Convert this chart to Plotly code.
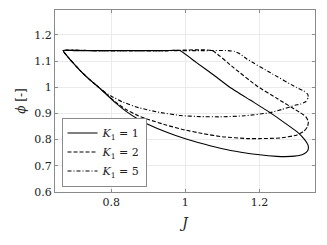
import plotly.graph_objects as go

# K1 = 1 (solid) closed loop
J_k1 = [0.670, 0.700, 0.750, 0.800, 0.850, 0.900, 0.950, 0.985,
        1.030, 1.080, 1.121, 1.175, 1.229, 1.270, 1.305, 1.322, 1.331, 1.332, 1.327, 1.315, 1.295, 1.270, 1.247,
        1.200, 1.150, 1.100, 1.050, 1.000, 0.950, 0.900, 0.874, 0.840, 0.810, 0.780, 0.760, 0.740, 0.720, 0.704, 0.685, 0.670]
phi_k1 = [1.140, 1.140, 1.140, 1.140, 1.140, 1.140, 1.140, 1.140,
          1.094, 1.043, 0.999, 0.951, 0.903, 0.862, 0.826, 0.800, 0.780, 0.765, 0.752, 0.742, 0.737, 0.735, 0.736,
          0.742, 0.752, 0.765, 0.783, 0.803, 0.828, 0.858, 0.877, 0.908, 0.942, 0.982, 1.007, 1.031, 1.058, 1.082, 1.112, 1.140]

# K1 = 2 (dashed)
J_k2 = [0.670, 0.750, 0.850, 0.950, 1.072,
        1.130, 1.193, 1.250, 1.310, 1.325, 1.332, 1.330, 1.320, 1.300, 1.256,
        1.200, 1.166, 1.100, 1.050, 0.995, 0.950, 0.900, 0.874, 0.840, 0.810, 0.780, 0.760, 0.740, 0.720, 0.704, 0.685, 0.670]
phi_k2 = [1.140, 1.140, 1.140, 1.140, 1.140,
          1.075, 1.005, 0.955, 0.903, 0.888, 0.870, 0.850, 0.832, 0.817, 0.806,
          0.804, 0.804, 0.811, 0.822, 0.838, 0.855, 0.877, 0.890, 0.915, 0.945, 0.982, 1.007, 1.031, 1.058, 1.082, 1.112, 1.140]

# K1 = 5 (dash-dot)
J_k5 = [0.670, 0.750, 0.850, 0.950, 1.050, 1.115,
        1.132, 1.148, 1.166, 1.230, 1.300, 1.320, 1.330, 1.332, 1.326, 1.312, 1.296,
        1.260, 1.229, 1.160, 1.094, 1.040, 0.987, 0.930, 0.874, 0.830, 0.800, 0.780, 0.760, 0.740, 0.720, 0.704, 0.685, 0.670]
phi_k5 = [1.140, 1.140, 1.140, 1.140, 1.140, 1.140,
          1.137, 1.127, 1.108, 1.055, 0.999, 0.986, 0.974, 0.962, 0.946, 0.936, 0.931,
          0.915, 0.903, 0.891, 0.887, 0.888, 0.892, 0.904, 0.922, 0.944, 0.966, 0.984, 1.007, 1.031, 1.058, 1.082, 1.112, 1.140]

names = ["<i>K</i><sub>1</sub> = 1", "<i>K</i><sub>1</sub> = 2", "<i>K</i><sub>1</sub> = 5"]
x_ticks = [0.8, 1.0, 1.2]
x_tick_text = ["0.8", "1", "1.2"]
y_ticks = [0.6, 0.7, 0.8, 0.9, 1.0, 1.1, 1.2]
y_tick_text = ["0.6", "0.7", "0.8", "0.9", "1", "1.1", "1.2"]

FONT = "DejaVu Serif"

fig = go.Figure()
for J, phi, nm, dash in [(J_k1, phi_k1, names[0], "solid"),
                         (J_k2, phi_k2, names[1], "4px,2px"),
                         (J_k5, phi_k5, names[2], "4px,2px,1px,2px")]:
    fig.add_trace(go.Scatter(x=J, y=phi, mode="lines", name=nm,
                             line=dict(color="black", width=1.1, dash=dash, shape="spline", smoothing=0.4)))

axis_common = dict(showline=True, linecolor="#8a8a8a", linewidth=1, mirror="ticks",
                   ticks="inside", ticklen=3, tickcolor="#8a8a8a",
                   showgrid=True, gridcolor="#ebebeb", gridwidth=1, zeroline=False,
                   automargin=False,
                   tickfont=dict(family=FONT, size=11, color="#222"))

# page body has an 8px default margin: margins compensate so the plot sits at x 55-315, y 10-192
fig.update_layout(
    width=327, height=245,
    margin=dict(l=47, r=20, t=2, b=61),
    plot_bgcolor="white", paper_bgcolor="white",
    xaxis=dict(range=[0.648, 1.35], tickvals=x_ticks, ticktext=x_tick_text,
               title=dict(text="<i>J</i>", font=dict(family=FONT, size=14, color="#222"), standoff=9),
               **axis_common),
    yaxis=dict(range=[0.6, 1.295], tickvals=y_ticks, ticktext=y_tick_text,
               title=dict(text="<i>ϕ</i> [-]", font=dict(family=FONT, size=12, color="#222"), standoff=6),
               **axis_common),
    legend=dict(x=0.025, y=0.03, xanchor="left", yanchor="bottom",
                bgcolor="white", bordercolor="#8a8a8a", borderwidth=1,
                font=dict(family=FONT, size=11, color="#222"),
                tracegroupgap=0, itemwidth=30),
    showlegend=True,
)

fig.write_html("out.html")
